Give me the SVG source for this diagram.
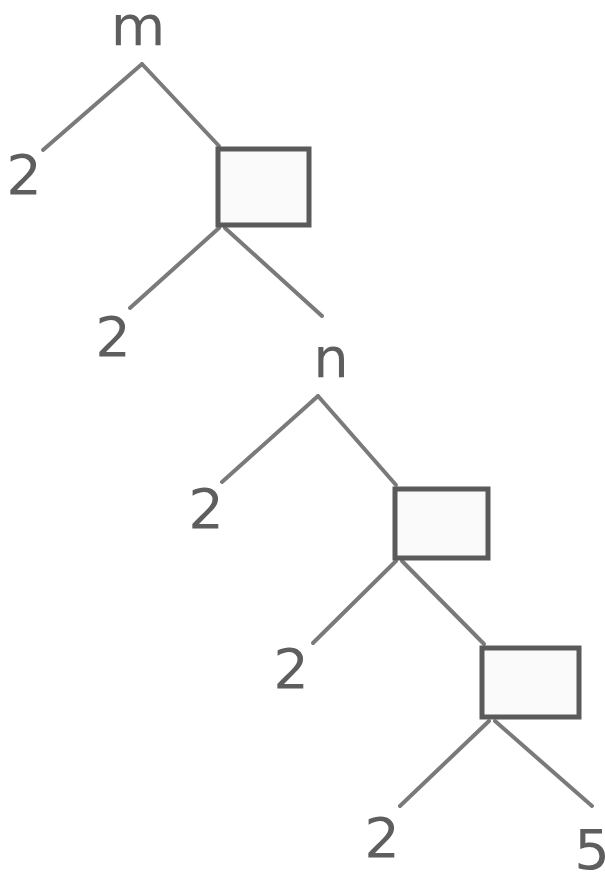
<svg xmlns="http://www.w3.org/2000/svg" width="605" height="873" viewBox="0 0 605 873">
  <style>
    .edge { stroke: #7a7a7a; stroke-width: 4; fill: none; stroke-linecap: round; }
    .box { fill: #fafafa; stroke: #5a5a5a; stroke-width: 5; }
    .lbl { font-family: "DejaVu Sans", sans-serif; font-size: 56px; fill: #5e5e5e; text-anchor: middle; }
  </style>
  <rect width="605" height="873" fill="#ffffff"/>
  <g id="connectors">
    <!-- root m -->
    <line class="edge" x1="142" y1="64" x2="43" y2="150"/>
    <line class="edge" x1="142" y1="64" x2="219" y2="146"/>
    <!-- first box -->
    <line class="edge" x1="219" y1="228" x2="130" y2="308"/>
    <line class="edge" x1="225" y1="228" x2="322" y2="316"/>
    <!-- root n -->
    <line class="edge" x1="318" y1="396" x2="222" y2="482"/>
    <line class="edge" x1="318" y1="396" x2="396" y2="485"/>
    <!-- second box -->
    <line class="edge" x1="396" y1="561" x2="313" y2="643"/>
    <line class="edge" x1="402" y1="561" x2="484" y2="644"/>
    <!-- third box -->
    <line class="edge" x1="489" y1="721" x2="400" y2="806"/>
    <line class="edge" x1="495" y1="721" x2="592" y2="806"/>
  </g>
  <g id="node-m"><text class="lbl" x="138" y="45">m</text></g>
  <g id="leaf-1"><text class="lbl" x="24" y="194">2</text></g>
  <g id="box-1"><rect class="box" x="218" y="149" width="91" height="76"/></g>
  <g id="leaf-2"><text class="lbl" x="113" y="356">2</text></g>
  <g id="node-n"><text class="lbl" x="331" y="377">n</text></g>
  <g id="leaf-3"><text class="lbl" x="206" y="528">2</text></g>
  <g id="box-2"><rect class="box" x="395" y="489" width="93" height="69"/></g>
  <g id="leaf-4"><text class="lbl" x="291" y="688">2</text></g>
  <g id="box-3"><rect class="box" x="482" y="648" width="97" height="69"/></g>
  <g id="leaf-5"><text class="lbl" x="382" y="857">2</text></g>
  <g id="leaf-6"><text class="lbl" x="592" y="869">5</text></g>
</svg>
